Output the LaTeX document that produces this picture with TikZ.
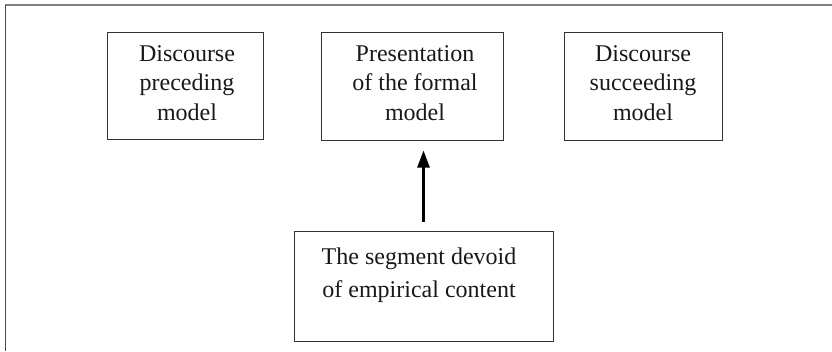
\documentclass[tikz,border=0pt]{standalone}
\usepackage{fontspec}
\setmainfont{Liberation Serif}
\usetikzlibrary{arrows.meta}
\begin{document}
\begin{tikzpicture}[x=1pt,y=-1pt,
  box/.style={draw=black!80,line width=1pt,inner sep=0pt,rectangle},
  txt/.style={align=center,inner sep=0pt,text=black!90,font=\fontsize{24}{29.5}\selectfont},
  frameline/.style={line width=1.4pt}]
\useasboundingbox (0,0) rectangle (832,351);
\draw[frameline,draw=black!50] (5,5) -- (832,5);
\draw[frameline,draw=black!70] (5.5,5) -- (5.5,351);
% boxes
\node[box,minimum width=156pt,minimum height=107pt] (b1) at (185,85.5) {};
\node[box,minimum width=182pt,minimum height=108pt] (b2) at (412,86) {};
\node[box,minimum width=158pt,minimum height=108pt] (b3) at (643,86) {};
\node[box,minimum width=259pt,minimum height=110pt] (b4) at (423.5,286) {};
% texts
\node[txt] (t1) at (187,83) {Discourse\\preceding\\model};
\node[txt] (t2) at (415,83) {Presentation\\of the formal\\model};
\node[txt] (t3) at (643,83) {Discourse\\succeeding\\model};
\node[txt,font=\fontsize{24}{33}\selectfont] (t4) at (419,275) {The segment devoid\\of empirical content};
% arrow
\coordinate (a0) at ([yshift=9pt]b4.north);
\coordinate (a1) at ([yshift=-10pt]b2.south -| a0);
\draw[line width=2.6pt,-{Triangle[length=17pt,width=12pt]}] (a0) -- (a1);
\end{tikzpicture}
\end{document}
